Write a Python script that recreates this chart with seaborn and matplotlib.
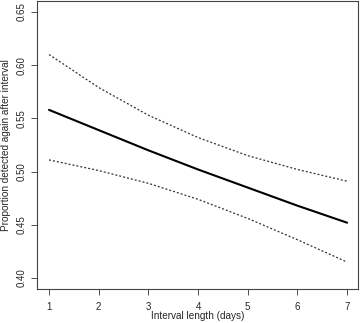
import pandas as pd
import matplotlib
matplotlib.use("Agg")
import matplotlib.pyplot as plt
import seaborn as sns

# --- DATA ---
days = [1, 2, 3, 4, 5, 6, 7]
fit = [0.558, 0.539, 0.520, 0.502, 0.485, 0.468, 0.452]
upper = [0.610, 0.579, 0.553, 0.532, 0.515, 0.502, 0.491]
lower = [0.511, 0.501, 0.489, 0.474, 0.456, 0.436, 0.415]
xticks = [1, 2, 3, 4, 5, 6, 7]
yticks = [0.40, 0.45, 0.50, 0.55, 0.60, 0.65]

df = pd.DataFrame({"days": days, "fit": fit, "upper": upper, "lower": lower})

sns.set_style("ticks")
plt.rcParams['font.family'] = ['Liberation Sans', 'DejaVu Sans']

fig = plt.figure(figsize=(3.6, 3.23), dpi=100)
ax = fig.add_axes([37 / 360, 34 / 323, 321 / 360, 288 / 323])

# fitted proportion and its confidence band
sns.lineplot(data=df, x="days", y="fit", ax=ax, color="black", lw=1.5)
for col in ["upper", "lower"]:
    sns.lineplot(data=df, x="days", y=col, ax=ax, color="#333333", lw=0.9,
                 dashes=False, linestyle=(0, (1.6, 1.6)))

ax.set_xlim(0.758, 7.22)
ax.set_ylim(0.3897, 0.6603)
ax.set_xticks(xticks)
ax.set_yticks(yticks)
ax.set_yticklabels([f"{v:.2f}" for v in yticks], rotation=90, va="center")
ax.tick_params(axis="both", direction="out", length=4.3, width=0.6,
               labelsize=7, color="#333333")
ax.tick_params(axis="x", pad=5)
ax.tick_params(axis="y", pad=3)
ax.set_xlabel("Interval length (days)", fontsize=7.2, va="center")
ax.set_ylabel("Proportion detected again after interval", fontsize=7.2, va="center")
ax.xaxis.set_label_coords(0.5, -0.094)
ax.yaxis.set_label_coords(-0.097, 0.5)
for s in ax.spines.values():
    s.set_visible(True)
    s.set_color("#444444")
    s.set_linewidth(0.8)

fig.savefig("out.png", dpi=100)
